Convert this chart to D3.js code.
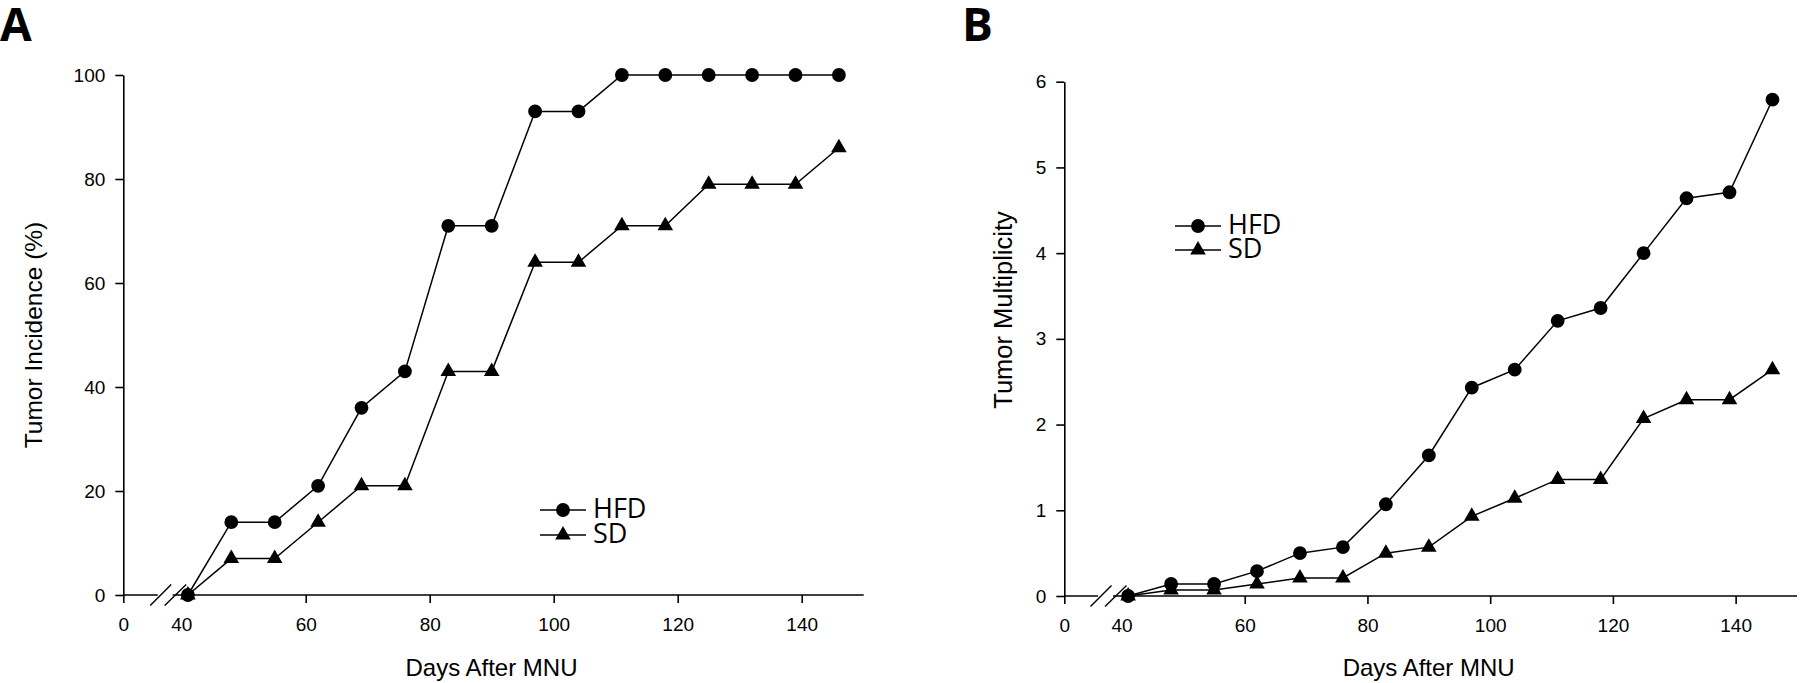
<!DOCTYPE html>
<html><head><meta charset="utf-8">
<script src="https://cdn.jsdelivr.net/npm/d3@7"></script>
<style>
body{margin:0;background:#fff}
svg{display:block}
text{font-family:"Liberation Sans",Arial,sans-serif;fill:#000}
</style>
</head><body>
<svg id="c" width="1800" height="683"></svg>
<script>
// ---- data ----
const days = [41,48,55,62,69,76,83,90,97,104,111,118,125,132,139,146];
const incidenceHFD = [0,14,14,21,36,43,71,71,93,93,100,100,100,100,100,100];
const incidenceSD  = [0,7,7,14,21,21,43,43,64,64,71,71,79,79,79,86];
const multiplicityHFD = [0,0.14,0.14,0.29,0.50,0.57,1.07,1.64,2.43,2.64,3.21,3.36,4.00,4.64,4.71,5.79];
const multiplicitySD  = [0,0.07,0.07,0.14,0.21,0.21,0.50,0.57,0.93,1.14,1.36,1.36,2.07,2.29,2.29,2.64];
const xTickValues = [0,60,80,100,120,140];
const xBreakLabel = 40;
const incidenceTicks = [0,20,40,60,80,100];
const multiplicityTicks = [0,1,2,3,4,5,6];
const seriesNames = ["HFD","SD"];
const panelLetters = ["A","B"];
const xTitle = "Days After MNU";
const yTitles = ["Tumor Incidence (%)","Tumor Multiplicity"];

const svg = d3.select("#c");

const panels = [
  {letter:panelLetters[0], letterX:0, letterY:41,
   xr:[123.3,181.7,863.7], yr:[595,75], ymax:100, yticks:incidenceTicks,
   hfd:incidenceHFD, sd:incidenceSD, yTitle:yTitles[0], yTitleX:42, yTitleY:335, yTitleSize:24.5,
   legX:540, legY:[510,535]},
  {letter:panelLetters[1], letterX:962, letterY:41,
   xr:[1064.3,1122,1797], yr:[596,81.7], ymax:6, yticks:multiplicityTicks,
   hfd:multiplicityHFD, sd:multiplicitySD, yTitle:yTitles[1], yTitleX:1012, yTitleY:310, yTitleSize:25.5,
   legX:1175, legY:[226,250]}
];

const circle = d3.symbol().type(d3.symbolCircle).size(150);
const tri = d3.symbol().type(d3.symbolTriangle).size(105);
const shapes = [circle, tri];

panels.forEach(p => {
  const g = svg.append("g");
  const x = d3.scaleLinear().domain([0,40,150]).range(p.xr);
  const y = d3.scaleLinear().domain([0,p.ymax]).range(p.yr);

  // panel letter
  g.append("text").attr("x",p.letterX).attr("y",p.letterY)
    .style("font-family","'Open Sans',sans-serif").style("font-weight","700")
    .style("font-size","46px").text(p.letter);

  // y axis
  const ya = g.append("g").attr("transform",`translate(${x(0)},0)`)
    .call(d3.axisLeft(y).tickValues(p.yticks).tickSize(8).tickSizeOuter(0).tickPadding(10).tickFormat(d3.format("d")));
  ya.selectAll("text").style("font-size","19px").style("font-family","'Liberation Sans',Arial,sans-serif");
  ya.selectAll("path,line").attr("stroke","#000").attr("stroke-width",1.6);

  // x axis
  const xa = g.append("g").attr("transform",`translate(0,${y(0)})`)
    .call(d3.axisBottom(x).tickValues(xTickValues).tickSize(8).tickSizeOuter(0).tickPadding(15).tickFormat(d3.format("d")));
  xa.select(".domain").remove();
  xa.selectAll("text").style("font-size","19px").style("font-family","'Liberation Sans',Arial,sans-serif");
  xa.selectAll("line").attr("stroke","#000").attr("stroke-width",1.6);
  // break label (40) without tick
  xa.append("text").attr("x",x(xBreakLabel)).attr("y",23).attr("dy","0.71em")
    .attr("text-anchor","middle").style("font-size","19px").text(xBreakLabel);

  // axis line with break
  const x40 = x(40), y0 = y(0);
  const gapL = x40 - 24, gapR = x40 - 9;
  g.append("line").attr("x1",x(0)).attr("x2",gapL).attr("y1",y0).attr("y2",y0)
    .attr("stroke","#000").attr("stroke-width",1.6);
  g.append("line").attr("x1",gapR).attr("x2",x(150)).attr("y1",y0).attr("y2",y0)
    .attr("stroke","#000").attr("stroke-width",1.6);
  [[-31.5,-10.5],[-17,4.5]].forEach(([a,b]) => {
    g.append("line").attr("x1",x40+a).attr("y1",y0+10.5).attr("x2",x40+b).attr("y2",y0-10.5)
      .attr("stroke","#000").attr("stroke-width",1.4);
  });

  // titles
  g.append("text").attr("x",(x(0)+x(150))/2 - 2).attr("y",676)
    .attr("text-anchor","middle").style("font-size","24px").text(xTitle);
  g.append("text").attr("transform",`translate(${p.yTitleX},${p.yTitleY}) rotate(-90)`)
    .attr("text-anchor","middle").style("font-size",p.yTitleSize+"px").text(p.yTitle);

  // series
  const line = d3.line().x((d,i)=>x(days[i])).y(d=>y(d));
  [p.hfd, p.sd].forEach((vals, si) => {
    g.append("path").datum(vals).attr("d",line).attr("fill","none")
      .attr("stroke","#000").attr("stroke-width",1.5);
    g.selectAll(null).data(vals).enter().append("path")
      .attr("d",shapes[si])
      .attr("transform",(d,i)=>`translate(${x(days[i])},${y(d)})`)
      .attr("fill","#000");
  });

  // legend
  seriesNames.forEach((name, si) => {
    const ly = p.legY[si];
    g.append("line").attr("x1",p.legX).attr("x2",p.legX+46).attr("y1",ly).attr("y2",ly)
      .attr("stroke","#000").attr("stroke-width",1.5);
    g.append("path").attr("d",shapes[si]).attr("transform",`translate(${p.legX+23},${ly})`).attr("fill","#000");
    g.append("text").attr("x",p.legX+53).attr("y",ly+8)
      .style("font-family","'Open Sans',sans-serif").style("font-size","27px").text(name);
  });
});
</script>
</body></html>
